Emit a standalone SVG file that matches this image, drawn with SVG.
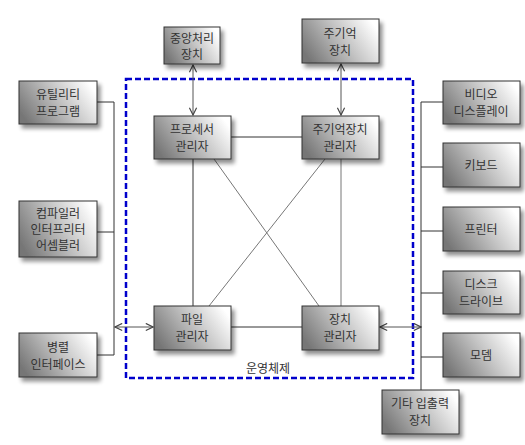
<svg xmlns="http://www.w3.org/2000/svg" width="525" height="445" viewBox="0 0 525 445">
<defs>
<linearGradient id="g" x1="0" y1="0.7" x2="1" y2="0.3">
<stop offset="0" stop-color="#767676"/>
<stop offset="0.55" stop-color="#c4c4c4"/>
<stop offset="1" stop-color="#ffffff"/>
</linearGradient>
<filter id="sh" x="-20%" y="-20%" width="150%" height="160%">
<feGaussianBlur in="SourceAlpha" stdDeviation="2"/>
<feOffset dx="3" dy="4" result="b"/>
<feComponentTransfer><feFuncA type="linear" slope="0.45"/></feComponentTransfer>
<feMerge><feMergeNode/><feMergeNode in="SourceGraphic"/></feMerge>
</filter>
<marker id="ah" viewBox="0 0 10 10" refX="9" refY="5" markerWidth="9" markerHeight="9" markerUnits="userSpaceOnUse" orient="auto-start-reverse">
<path d="M1,1 L9,5 L1,9" fill="none" stroke="#444" stroke-width="1.3"/>
</marker>
</defs>
<style>
.box{fill:url(#g);stroke:#333;stroke-width:1;filter:url(#sh)}
.t{font-family:"Noto Sans CJK KR","Noto Sans CJK SC",sans-serif;font-size:12px;fill:#333;text-anchor:middle}
.c{fill:none;stroke:#333;stroke-width:1}
.d{fill:none;stroke:#777;stroke-width:1}
.a{fill:none;stroke:#555;stroke-width:1;marker-start:url(#ah);marker-end:url(#ah)}
</style>
<rect width="525" height="445" fill="#ffffff"/>
<rect x="126" y="79" width="287" height="299" fill="none" stroke="#0000cc" stroke-width="2.5" stroke-dasharray="6,3"/>
<text class="t" x="268" y="373">운영체제</text>
<g id="connectors">
<line class="a" x1="193" y1="65" x2="193" y2="115"/>
<line class="a" x1="341" y1="64" x2="341" y2="115"/>
<line class="c" x1="231" y1="137" x2="302" y2="137"/>
<line class="c" x1="193" y1="159" x2="193" y2="306"/>
<line class="d" x1="341" y1="159" x2="341" y2="306"/>
<line class="d" x1="214" y1="159" x2="319" y2="306"/>
<line class="d" x1="325" y1="159" x2="209" y2="306"/>
<line class="c" x1="231" y1="327" x2="302" y2="327"/>
<polyline class="c" points="97,102 114,102 114,355 97,355"/>
<line class="c" x1="97" y1="232" x2="114" y2="232"/>
<line class="a" x1="115" y1="327" x2="153" y2="327"/>
<line class="a" x1="380" y1="327" x2="421" y2="327"/>
<line class="c" x1="421" y1="102" x2="421" y2="390"/>
<line class="c" x1="421" y1="102" x2="443" y2="102"/>
<line class="c" x1="421" y1="167" x2="443" y2="167"/>
<line class="c" x1="421" y1="231" x2="443" y2="231"/>
<line class="c" x1="421" y1="293" x2="443" y2="293"/>
<line class="c" x1="421" y1="357" x2="443" y2="357"/>
</g>
<g id="cpu"><rect class="box" x="164" y="27" width="56" height="37"/><text class="t" x="192" y="43">중앙처리</text><text class="t" x="192" y="59">장치</text></g>
<g id="mem"><rect class="box" x="302" y="19" width="77" height="44"/><text class="t" x="340" y="38">주기억</text><text class="t" x="340" y="55">장치</text></g>
<g id="util"><rect class="box" x="19" y="81" width="78" height="43"/><text class="t" x="58" y="99">유틸리티</text><text class="t" x="58" y="116">프로그램</text></g>
<g id="compiler"><rect class="box" x="19" y="201" width="78" height="56"/><text class="t" x="58" y="218">컴파일러</text><text class="t" x="58" y="234">인터프리터</text><text class="t" x="58" y="250">어셈블러</text></g>
<g id="parallel"><rect class="box" x="19" y="333" width="78" height="44"/><text class="t" x="58" y="352">병렬</text><text class="t" x="58" y="369">인터페이스</text></g>
<g id="procmgr"><rect class="box" x="154" y="116" width="77" height="43"/><text class="t" x="192" y="134">프로세서</text><text class="t" x="192" y="151">관리자</text></g>
<g id="memmgr"><rect class="box" x="302" y="116" width="77" height="43"/><text class="t" x="340" y="134">주기억장치</text><text class="t" x="340" y="151">관리자</text></g>
<g id="filemgr"><rect class="box" x="154" y="306" width="77" height="44"/><text class="t" x="192" y="324">파일</text><text class="t" x="192" y="341">관리자</text></g>
<g id="devmgr"><rect class="box" x="302" y="306" width="77" height="44"/><text class="t" x="340" y="324">장치</text><text class="t" x="340" y="341">관리자</text></g>
<g id="video"><rect class="box" x="443" y="81" width="77" height="43"/><text class="t" x="481" y="99">비디오</text><text class="t" x="481" y="116">디스플레이</text></g>
<g id="keyboard"><rect class="box" x="443" y="143" width="77" height="44"/><text class="t" x="481" y="170">키보드</text></g>
<g id="printer"><rect class="box" x="443" y="207" width="77" height="44"/><text class="t" x="481" y="234">프린터</text></g>
<g id="disk"><rect class="box" x="443" y="271" width="77" height="43"/><text class="t" x="481" y="289">디스크</text><text class="t" x="481" y="306">드라이브</text></g>
<g id="modem"><rect class="box" x="443" y="333" width="77" height="44"/><text class="t" x="481" y="360">모뎀</text></g>
<g id="other"><rect class="box" x="382" y="390" width="77" height="44"/><text class="t" x="420" y="408">기타 입출력</text><text class="t" x="420" y="425">장치</text></g>
</svg>
